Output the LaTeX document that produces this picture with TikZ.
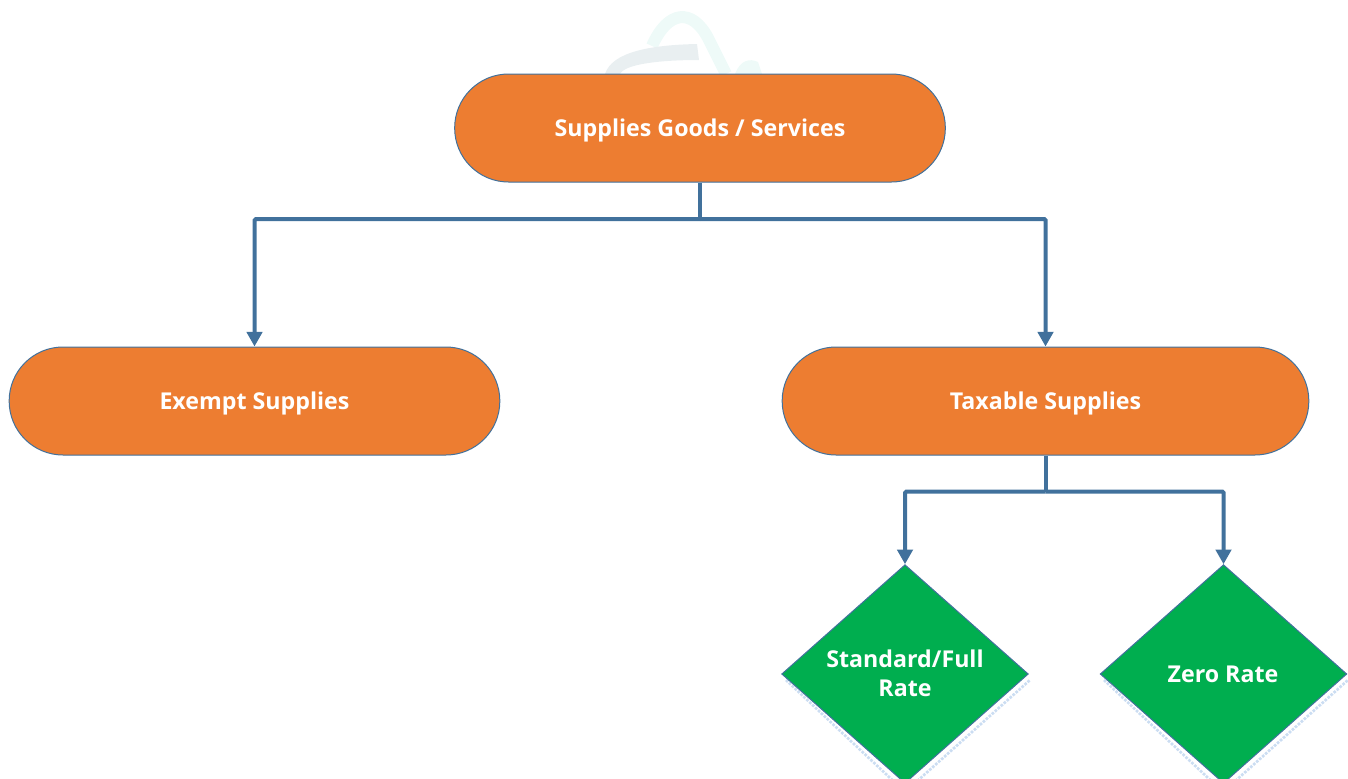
\documentclass[tikz,border=0pt]{standalone}
\usepackage{fontspec}
\setmainfont{Open Sans}
\usetikzlibrary{shapes.geometric,arrows.meta,calc}
\definecolor{boxorange}{HTML}{ED7D31}
\definecolor{boxgreen}{HTML}{00AE4F}
\definecolor{edgeblue}{HTML}{41719C}
\definecolor{wmgrey}{HTML}{E9EFF1}
\definecolor{wmteal}{HTML}{EEFAF8}
\definecolor{shadowblue}{HTML}{CBDDF2}
\tikzset{
  x=0.75pt,y=-0.75pt,
  pill/.style={rectangle,rounded corners=40.4pt,draw=edgeblue,line width=0.75pt,fill=boxorange,
    text=white,font=\bfseries\fontsize{17.4}{20}\selectfont,align=center,inner sep=0pt,text depth=0pt},
  gem/.style={diamond,aspect=1,inner sep=0pt,draw=edgeblue,line width=0.75pt,fill=boxgreen,
    minimum width=185pt,minimum height=164pt},
  gemtext/.style={text=white,font=\bfseries\fontsize{17.4}{22}\selectfont,align=center,inner sep=0pt},
  link/.style={draw=edgeblue,line width=3pt},
  arrowlink/.style={link,-{Triangle[length=11pt,width=11.5pt]}},
}
\begin{document}
\begin{tikzpicture}
\useasboundingbox (0,0) rectangle (1348,778);
% faint watermark
\draw[wmteal,line width=9pt] (652,46) .. controls (668,10) and (692,8) .. (708,38) .. controls (716,54) and (722,66) .. (726,74);
\fill[wmgrey] (605,74) .. controls (612,52) and (650,45) .. (697,44) -- (699,60) .. controls (660,60) and (625,64) .. (620,74) -- cycle;
\fill[wmteal] (735,74) .. controls (740,60) and (750,58) .. (758,62) -- (762,74) -- cycle;
% boxes
\node[pill,minimum width=368pt,minimum height=81pt] (root) at (700,128) {Supplies Goods / Services};
\node[pill,minimum width=368pt,minimum height=81pt] (exempt) at (254.5,401) {Exempt Supplies};
\node[pill,minimum width=395pt,minimum height=81pt] (taxable) at (1045.5,401) {Taxable Supplies};
% diamond shadows
\draw[shadowblue,densely dotted,line width=2pt] (786,680) -- (905,792) -- (1030,680);
\draw[shadowblue,densely dotted,line width=2pt] (1104,680) -- (1223,792) -- (1348,680);
\node[gem] (std) at (905,674) {};
\node[gem] (zero) at (1223.5,674) {};
\node[gemtext] (stdtext) at (905,673) {Standard/Full\\Rate};
\node[gemtext] (zerotext) at (1223,674) {Zero Rate};
% connectors
\coordinate (busa) at ($(root.south)+(0,36.5)$);
\coordinate (busb) at ($(taxable.south)+(0,36)$);
\draw[link] (root.south) -- (busa);
\draw[arrowlink,rounded corners=1pt] (busa) -| (exempt.north);
\draw[arrowlink,rounded corners=1pt] (busa) -| (taxable.north);
\draw[link] (taxable.south) -- (busb);
\draw[arrowlink,rounded corners=1pt] (busb) -| (std.north);
\draw[arrowlink,rounded corners=1pt] (busb) -| (zero.north);
\end{tikzpicture}
\end{document}
